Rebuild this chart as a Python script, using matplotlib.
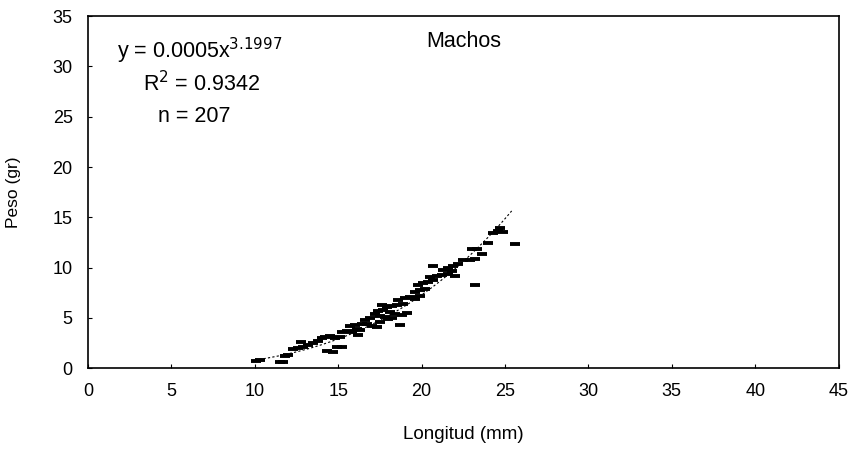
import numpy as np
import matplotlib
matplotlib.use('Agg')
import matplotlib.pyplot as plt

plt.rcParams['font.family'] = ['Liberation Sans', 'DejaVu Sans']

# longitud (mm) y peso (gr)
longitud = [10.1, 10.3, 11.5, 11.7, 11.8, 12.0, 12.3, 12.6, 12.9, 12.8,
            13.2, 13.5, 13.8, 14.0, 14.2, 14.5, 14.8, 15.1, 14.3, 14.7,
            14.9, 15.2, 15.2, 15.5, 15.8, 16.1, 16.3, 15.7, 16.0, 16.4,
            16.7, 17.0, 17.3, 16.6, 16.9, 17.2, 17.5, 17.8, 17.4, 17.7,
            17.6, 17.9, 18.2, 18.5, 18.9, 18.1, 18.4, 18.0, 17.5, 18.7,
            18.6, 19.0, 19.3, 19.6, 19.9, 19.6, 19.9, 20.2, 19.8, 20.1,
            20.4, 20.7, 20.5, 20.9, 21.2, 21.6, 22.0, 20.7, 21.3, 21.6,
            21.9, 22.2, 21.8, 22.5, 22.9, 23.2, 23.3, 23.6, 23.0, 24.0,
            23.2, 24.3, 24.6, 24.9, 24.7, 25.6, 18.2, 18.8, 19.1, 16.2]
peso = [0.7, 0.8, 0.6, 0.6, 1.2, 1.3, 1.9, 2.0, 2.1, 2.6,
        2.3, 2.5, 2.7, 3.0, 3.1, 3.2, 3.0, 3.1, 1.7, 1.6,
        2.1, 2.1, 3.6, 3.7, 3.6, 3.9, 3.8, 4.2, 4.3, 4.4,
        4.4, 4.2, 4.1, 4.8, 5.0, 5.4, 5.2, 5.1, 5.7, 5.8,
        6.3, 6.1, 6.2, 6.3, 6.4, 5.6, 5.4, 4.9, 4.6, 4.3,
        6.8, 7.0, 7.1, 6.9, 7.2, 7.6, 7.8, 7.9, 8.3, 8.5,
        8.6, 8.8, 9.1, 9.2, 9.3, 9.4, 9.2, 10.2, 9.8, 10.0,
        10.2, 10.4, 9.7, 10.8, 10.8, 10.9, 11.8, 11.3, 11.8, 12.4,
        8.3, 13.4, 13.6, 13.5, 13.9, 12.3, 5.0, 5.3, 5.5, 3.3]

# parametros de la curva de ajuste mostrada
a = 0.0005
b = 3.1997

fig = plt.figure(figsize=(8.54, 4.5), dpi=100)
ax = fig.add_axes([0.103, 0.182, 0.879, 0.782])

ax.plot(longitud, peso, linestyle='none', marker='_', color='black',
        markersize=7.5, markeredgewidth=2.8)

xs = np.linspace(10, 25.4, 100)
ax.plot(xs, a * xs ** b, color='black', linestyle=(0, (2, 2)), linewidth=0.8)

ax.set_xlim(0, 45)
ax.set_ylim(0, 35)
ax.set_xticks(range(0, 46, 5))
ax.set_yticks(range(0, 36, 5))
ax.tick_params(direction='in', length=3, labelsize=13)
ax.tick_params(axis='x', pad=11)
ax.tick_params(axis='y', pad=11)
for s in ax.spines.values():
    s.set_linewidth(1.2)

ax.set_xlabel('Longitud (mm)', fontsize=13.5)
ax.xaxis.set_label_coords(0.5, -0.165)
ax.set_ylabel('Peso (gr)', fontsize=12.5)
ax.yaxis.set_label_coords(-0.089, 0.5)

ax.text(6.7, 31.5, r'y = 0.0005x$^{3.1997}$', ha='center', va='center', fontsize=15.5)
ax.text(6.8, 28.3, r'R$^{2}$ = 0.9342', ha='center', va='center', fontsize=15.5)
ax.text(6.4, 25.0, 'n = 207', ha='center', va='center', fontsize=15.5)
ax.text(22.5, 32.5, 'Machos', ha='center', va='center', fontsize=15.5)

fig.savefig('out.png', dpi=100)
